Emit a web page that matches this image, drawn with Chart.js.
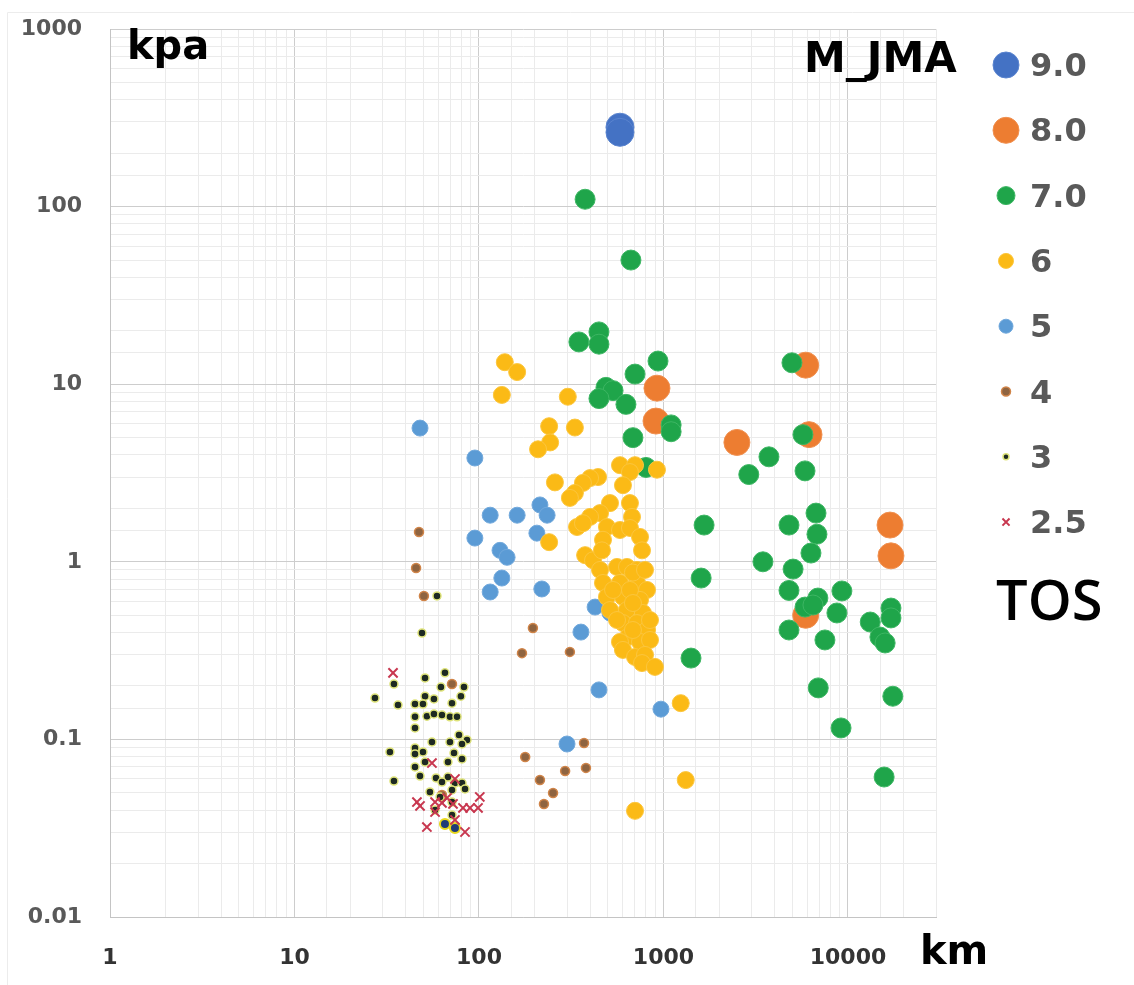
<!DOCTYPE html>
<html>
<head>
<meta charset="utf-8">
<script src="https://cdn.jsdelivr.net/npm/chart.js@4.4.1/dist/chart.umd.min.js"></script>
<style>
  html, body { margin: 0; padding: 0; background: #fff; }
  #wrap { width: 1134px; height: 985px; }
</style>
</head>
<body>
<div id="wrap"><canvas id="c" width="1134" height="985"></canvas></div>
<script>
// distance (km) vs pressure (kpa), one list of [km, kpa] per JMA magnitude class
const m90 = [[581,280],[581,262]];
const m80 = [[922,9.5],[911,6.2],[2500,4.7],[5900,12.8],[6150,5.2],[16900,1.61],[17100,1.08],[5900,0.50]];
const m70 = [[376,110],[666,50],[348,17.3],[447,19.7],[447,16.8],[934,13.5],[701,11.4],[488,9.6],[533,9.2],[447,8.3],
  [626,7.7],[1100,5.9],[1100,5.4],[683,5.0],[804,3.4],[4970,13.2],[5700,5.2],[3730,3.9],[2900,3.1],[5850,3.25],
  [1660,1.61],[4790,1.61],[6710,1.88],[6790,1.43],[6300,1.12],[3460,1.0],[1600,0.81],[5040,0.91],[4790,0.69],[9270,0.685],
  [6870,0.625],[5850,0.556],[6460,0.571],[8710,0.515],[4790,0.413],[7500,0.363],[13200,0.458],[14900,0.377],[15900,0.349],
  [17100,0.549],[17100,0.483],[1410,0.287],[6900,0.195],[17500,0.175],[9170,0.116],[15700,0.0614]];
const m6 = [[138,13.3],[161,11.7],[133,8.7],[303,8.5],[240,5.8],[331,5.7],[243,4.7],[209,4.3],[258,2.8],
  [581,3.5],[701,3.5],[922,3.3],[658,3.2],[603,2.7],[442,3.0],[400,2.96],[366,2.78],[331,2.44],[311,2.29],[513,2.14],
  [658,2.14],[453,1.88],[400,1.79],[340,1.57],[366,1.65],[494,1.57],[675,1.79],[581,1.51],[658,1.55],[746,1.38],
  [765,1.16],[470,1.33],[376,1.09],[415,1.02],[464,1.16],[560,0.935],[634,0.935],[718,0.9],[453,0.9],[470,0.76],
  [581,0.76],[718,0.76],[814,0.694],[494,0.634],[603,0.634],[746,0.61],[513,0.535],[634,0.535],[774,0.515],[603,0.452],
  [718,0.452],[814,0.413],[642,0.377],[581,0.354],[746,0.354],[845,0.363],[603,0.319],[701,0.291],[794,0.299],[765,0.269],
  [899,0.256],[683,0.87],[533,0.694],[658,0.694],[560,0.47],[683,0.586],[794,0.9],[845,0.47],[683,0.413],[240,1.29],
  [1240,0.16],[1320,0.059],[701,0.0396]];
const m5 = [[47.9,5.66],[95,3.84],[115,1.83],[161,1.83],[214,2.09],[234,1.83],[206,1.45],[95,1.36],[130,1.16],[142,1.06],
  [133,0.81],[115,0.676],[219,0.703],[357,0.402],[426,0.556],[513,0.515],[447,0.19],[969,0.148],[300,0.0942]];
const m4 = [[47.3,1.47],[45.6,0.923],[50.3,0.642],[196,0.424],[171,0.306],[311,0.311],[371,0.0955],[178,0.0796],
  [293,0.0664],[380,0.0691],[214,0.0591],[252,0.0499],[225,0.0433],[71.4,0.205],[63,0.0486]];
const m3 = [[34.6,0.205],[51,0.222],[65.4,0.237],[62.2,0.197],[82.9,0.197],[79.8,0.175],[27.3,0.171],[36.4,0.156],
  [51,0.175],[57,0.169],[45,0.158],[49.7,0.158],[71.4,0.16],[45,0.134],[52.2,0.135],[57,0.139],[63,0.137],[69.6,0.134],
  [76,0.134],[45,0.116],[77.9,0.106],[86.1,0.0993],[55.6,0.0967],[69.6,0.0967],[80.9,0.0942],[32.9,0.085],[45,0.0895],
  [49.7,0.085],[45,0.0828],[73.2,0.0838],[45,0.07],[51,0.0746],[67.9,0.0746],[80.9,0.0776],[47.9,0.0622],[58.5,0.0607],
  [67.9,0.0614],[34.6,0.0583],[54.2,0.0506],[63,0.0575],[74.1,0.0568],[80.9,0.0568],[71.4,0.0519],[84,0.0526],
  [61.5,0.0474],[71.4,0.0444],[57.8,0.0401],[71.4,0.0375],[59.2,0.642],[49.1,0.397]];
const m3low = [[65.4,0.0334],[74.1,0.0317]];
const m25 = [[34.2,0.237],[55.6,0.0736],[74.1,0.0599],[46.1,0.0444],[47.9,0.0422],[57.8,0.0444],[63,0.0439],
  [67.1,0.0468],[72.3,0.0433],[81.9,0.0411],[89.4,0.0411],[101,0.0474],[98.8,0.0411],[52.2,0.0321],[74.1,0.0352],
  [84,0.0301],[57.8,0.039]];

const legendLabels = ['9.0','8.0','7.0','6','5','4','3','2.5'];
const decadeLabels = ['0.01','0.1','1','10','100','1000','10000'];

const toPts = arr => arr.map(p => ({x: p[0], y: p[1]}));
const BOLD = '"DejaVu Sans", sans-serif';

function series(label, arr, opts){
  return Object.assign({ label, data: toPts(arr), pointStyle: 'circle', borderWidth: 1 }, opts);
}

const datasets = [
  series('9.0', m90, { backgroundColor: '#4472C4', borderColor: '#5a84cf', pointRadius: 14, order: 7 }),
  series('8.0', m80, { backgroundColor: '#ED7D31', borderColor: '#f09050', pointRadius: 13, order: 6 }),
  series('7.0', m70, { backgroundColor: '#1FA54A', borderColor: '#3db663', pointRadius: 10, order: 5 }),
  series('6',   m6,  { backgroundColor: '#FBBA16', borderColor: '#fcc63e', pointRadius: 8.5, order: 3 }),
  series('5',   m5,  { backgroundColor: '#5B9BD5', borderColor: '#72a9dc', pointRadius: 8, order: 4 }),
  series('4',   m4,  { backgroundColor: '#8f6440', borderColor: '#d08448', borderWidth: 1.5, pointRadius: 4.5, order: 2 }),
  series('3',   m3,  { backgroundColor: '#1e2a22', borderColor: '#dfe47a', borderWidth: 1.5, pointRadius: 4, order: 1 }),
  series('2.5', m25, { pointStyle: 'crossRot', borderColor: '#c8374f', borderWidth: 2, pointRadius: 6.5, order: 0 }),
  series('3b',  m3low, { backgroundColor: '#1f3b78', borderColor: '#e8d81c', borderWidth: 2, pointRadius: 5, order: 1 })
];

// legend rows: marker radius per row, colours/styles come from the datasets
const legendRadius = [13, 13, 9, 7.5, 7, 4.5, 3, 5];

const isDecade = v => Math.abs(Math.log10(v) - Math.round(Math.log10(v))) < 1e-6;

const overlay = {
  id: 'overlay',
  beforeDraw(chart){
    const ctx = chart.ctx;
    ctx.save();
    ctx.strokeStyle = '#ececec';
    ctx.lineWidth = 1;
    ctx.beginPath();
    ctx.moveTo(7.5, 985); ctx.lineTo(7.5, 12.5); ctx.lineTo(1134, 12.5);
    ctx.stroke();
    ctx.restore();
  },
  afterDraw(chart){
    const ctx = chart.ctx;
    ctx.save();
    ctx.fillStyle = '#000';
    ctx.textBaseline = 'alphabetic';
    ctx.textAlign = 'left';
    ctx.font = 'bold 40px ' + BOLD;
    ctx.fillText('kpa', 127, 59);
    ctx.font = 'bold 42px ' + BOLD;
    ctx.fillText('M_JMA', 804, 72);
    ctx.font = 'bold 40px ' + BOLD;
    ctx.fillText('km', 920, 964);
    ctx.font = '600 56px "Open Sans", sans-serif';
    ctx.fillText('TOS', 996, 620);

    // legend
    legendLabels.forEach((lab, i) => {
      const ds = chart.data.datasets[i];
      const y = 65 + i * 65.3;
      ctx.fillStyle = ds.backgroundColor || ds.borderColor;
      ctx.strokeStyle = ds.borderColor;
      ctx.lineWidth = ds.borderWidth;
      Chart.helpers.drawPoint(ctx, { pointStyle: ds.pointStyle, rotation: 0, radius: legendRadius[i], borderWidth: ds.borderWidth }, 1006, y);
      ctx.fillStyle = '#595959';
      ctx.font = 'bold 32px ' + BOLD;
      ctx.fillText(lab, 1030, y + 11);
    });
    ctx.restore();
  }
};

function logAxis(min, max, color, width, isX){
  return {
    type: 'logarithmic',
    min, max,
    position: isX ? 'bottom' : 'left',
    grid: {
      drawTicks: false,
      tickLength: 0,
      color: c => (c.tick && isDecade(c.tick.value)) ? '#cdcdcd' : '#ebebeb',
      lineWidth: 1
    },
    border: { display: true, color: '#c4c4c4' },
    ticks: {
      autoSkip: false,
      maxRotation: 0,
      padding: 28,
      color,
      font: { family: BOLD, size: 22, weight: 'bold' },
      callback: v => {
        if (!isDecade(v)) return '';
        const lab = decadeLabels[Math.round(Math.log10(v)) + 2];
        return lab === undefined ? '' : lab;
      }
    },
    afterFit: s => {
      // keep the plot box fixed; labels may overhang into the margins
      s.paddingTop = 0; s.paddingBottom = 0; s.paddingLeft = 0; s.paddingRight = 0;
      if (isX) s.height = 68; else s.width = width;
    }
  };
}

new Chart(document.getElementById('c'), {
  type: 'scatter',
  data: { datasets },
  options: {
    responsive: false,
    devicePixelRatio: 1,
    animation: false,
    layout: { padding: { top: 29, right: 198, left: 0, bottom: 0 } },
    plugins: { legend: { display: false }, tooltip: { enabled: false } },
    scales: {
      x: logAxis(1, 30000, '#333333', 0, true),
      y: logAxis(0.01, 1000, '#595959', 110, false)
    }
  },
  plugins: [overlay]
});
</script>
</body>
</html>
